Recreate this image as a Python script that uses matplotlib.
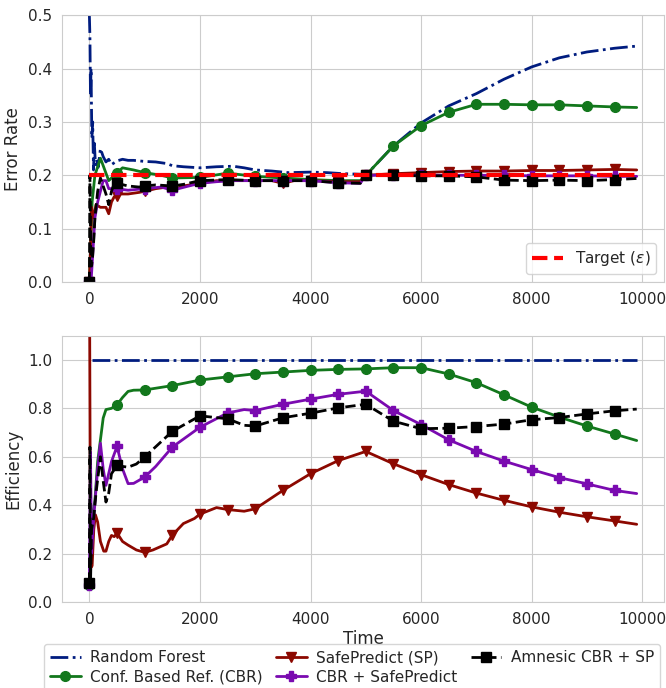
import matplotlib
matplotlib.use("Agg")
import matplotlib.pyplot as plt
import seaborn as sns

sns.set_style("whitegrid")
plt.rcParams['font.family'] = ['DejaVu Sans']

# --- error rate over time -------------------------------------------------
rf_err_t = [0, 10, 20, 30, 45, 60, 75, 90, 110, 130, 160, 200, 250, 300, 350, 400, 500, 600, 700, 800,
            1000, 1200, 1400, 1500, 1700, 2000, 2300, 2600, 2800, 3000, 3300, 3600, 4000, 4300, 4600,
            4900, 5000, 5500, 6000, 6500, 7000, 7500, 8000, 8500, 9000, 9500, 9900]
rf_err = [0.50, 0.46, 0.35, 0.40, 0.27, 0.30, 0.21, 0.26, 0.22, 0.23, 0.215, 0.25, 0.235, 0.225, 0.23,
          0.22, 0.227, 0.23, 0.228, 0.228, 0.226, 0.225, 0.222, 0.218, 0.216, 0.214, 0.216, 0.217,
          0.214, 0.21, 0.208, 0.205, 0.206, 0.205, 0.203, 0.202, 0.20, 0.255, 0.298, 0.33, 0.353,
          0.38, 0.403, 0.42, 0.431, 0.438, 0.442]

cbr_err_t = [0, 50, 100, 200, 350, 450, 500, 600, 800, 1000, 1300, 1500, 2000, 2500, 3000, 3500,
             4000, 4500, 4900, 5000, 5500, 6000, 6500, 7000, 7500, 8000, 8500, 9000, 9500, 9900]
cbr_err = [0.0, 0.15, 0.20, 0.232, 0.19, 0.20, 0.205, 0.214, 0.21, 0.205, 0.20, 0.195, 0.196, 0.204,
           0.198, 0.195, 0.192, 0.19, 0.19, 0.20, 0.255, 0.293, 0.318, 0.333, 0.333, 0.332, 0.332,
           0.33, 0.328, 0.327]

sp_err_t = [0, 20, 40, 80, 120, 200, 300, 350, 400, 450, 500, 550, 700, 900, 1000, 1200, 1400, 1500,
            1700, 2000, 2300, 2600, 3000, 3300, 3500, 3700, 4000, 4500, 4900, 5000, 5500, 6000,
            6500, 7000, 7500, 8000, 8500, 9000, 9500, 9900]
sp_err = [0.0, 0.06, 0.14, 0.12, 0.145, 0.14, 0.14, 0.128, 0.15, 0.16, 0.162, 0.165, 0.165, 0.168,
          0.17, 0.175, 0.178, 0.172, 0.18, 0.185, 0.19, 0.19, 0.19, 0.19, 0.185, 0.19, 0.19, 0.188,
          0.188, 0.20, 0.203, 0.205, 0.207, 0.208, 0.208, 0.209, 0.209, 0.21, 0.211, 0.21]

cbrsp_err_t = [0, 30, 60, 100, 150, 200, 250, 300, 350, 400, 500, 700, 1000, 1300, 1500, 1800, 2000,
               2300, 2600, 3000, 3500, 4000, 4500, 4900, 5000, 5500, 6000, 6500, 7000, 7500, 8000,
               8500, 9000, 9500, 9900]
cbrsp_err = [0.0, 0.0, 0.05, 0.12, 0.15, 0.17, 0.19, 0.19, 0.175, 0.175, 0.175, 0.172, 0.175, 0.178,
             0.172, 0.18, 0.185, 0.188, 0.19, 0.19, 0.19, 0.19, 0.186, 0.185, 0.20, 0.20, 0.20, 0.20,
             0.20, 0.20, 0.199, 0.199, 0.199, 0.198, 0.198]

amn_err_t = [0, 10, 25, 40, 60, 80, 100, 150, 200, 250, 300, 350, 400, 450, 500, 700, 900, 1000,
             1200, 1500, 1700, 2000, 2500, 3000, 3500, 4000, 4500, 4900, 5000, 5500, 6000, 6500,
             7000, 7500, 8000, 8500, 9000, 9500, 9900]
amn_err = [0.0, 0.20, 0.06, 0.03, 0.05, 0.08, 0.12, 0.17, 0.195, 0.18, 0.165, 0.145, 0.17, 0.185,
           0.185, 0.18, 0.178, 0.18, 0.182, 0.18, 0.183, 0.19, 0.192, 0.19, 0.19, 0.19, 0.186, 0.185,
           0.20, 0.20, 0.199, 0.199, 0.197, 0.191, 0.19, 0.191, 0.19, 0.192, 0.194]

target_t = [0, 9900]
target = [0.2, 0.2]

# --- efficiency over time -------------------------------------------------
rf_eff_t = [50, 9900]
rf_eff = [1.0, 1.0]

cbr_eff_t = [0, 50, 100, 150, 200, 250, 300, 400, 500, 600, 700, 800, 1000, 1500, 2000, 2500, 3000,
             3500, 4000, 4500, 5000, 5500, 6000, 6500, 7000, 7500, 8000, 8500, 9000, 9500, 9900]
cbr_eff = [0.07, 0.35, 0.42, 0.58, 0.67, 0.76, 0.795, 0.80, 0.815, 0.845, 0.87, 0.875, 0.876, 0.894,
           0.917, 0.93, 0.943, 0.95, 0.957, 0.961, 0.963, 0.968, 0.968, 0.942, 0.906, 0.856, 0.805,
           0.764, 0.727, 0.694, 0.667]

sp_eff_t = [0, 15, 25, 50, 80, 110, 150, 200, 260, 300, 350, 400, 450, 500, 600, 700, 850, 1000,
            1150, 1300, 1400, 1500, 1700, 1900, 2000, 2300, 2500, 2800, 3000, 3500, 4000, 4500,
            5000, 5500, 6000, 6500, 7000, 7500, 8000, 8500, 9000, 9500, 9900]
sp_eff = [1.5, 0.5, 0.14, 0.15, 0.30, 0.36, 0.33, 0.25, 0.21, 0.21, 0.25, 0.275, 0.27, 0.285, 0.25,
          0.235, 0.215, 0.205, 0.215, 0.23, 0.24, 0.276, 0.324, 0.345, 0.363, 0.39, 0.382, 0.375,
          0.385, 0.461, 0.53, 0.584, 0.622, 0.571, 0.526, 0.485, 0.45, 0.42, 0.393, 0.371, 0.352,
          0.335, 0.321]

cbrsp_eff_t = [0, 20, 40, 80, 150, 200, 250, 300, 400, 500, 600, 700, 800, 1000, 1200, 1500, 2000,
               2500, 2800, 3000, 3500, 4000, 4500, 5000, 5500, 6000, 6500, 7000, 7500, 8000, 8500,
               9000, 9500, 9900]
cbrsp_eff = [0.07, 0.62, 0.20, 0.35, 0.55, 0.656, 0.55, 0.482, 0.58, 0.643, 0.55, 0.489, 0.49, 0.516,
             0.56, 0.64, 0.722, 0.781, 0.795, 0.791, 0.817, 0.838, 0.858, 0.871, 0.791, 0.733, 0.670,
             0.622, 0.582, 0.547, 0.514, 0.488, 0.461, 0.448]

amn_eff_t = [0, 10, 20, 40, 80, 120, 200, 250, 300, 350, 400, 500, 600, 700, 850, 1000, 1500, 2000,
             2500, 2800, 3000, 3500, 4000, 4500, 5000, 5500, 6000, 6500, 7000, 7500, 8000, 8500,
             9000, 9500, 9900]
amn_eff = [0.08, 0.64, 0.07, 0.30, 0.35, 0.45, 0.60, 0.50, 0.413, 0.45, 0.53, 0.564, 0.56, 0.557,
           0.57, 0.599, 0.705, 0.769, 0.757, 0.73, 0.727, 0.761, 0.78, 0.802, 0.817, 0.747, 0.716,
           0.718, 0.725, 0.735, 0.753, 0.762, 0.777, 0.790, 0.797]

labels = ["Random Forest", "Conf. Based Ref. (CBR)", "SafePredict (SP)",
          "CBR + SafePredict", "Amnesic CBR + SP"]
colors = ["#001c7f", "#12771c", "#8c0800", "#7a0ab0", "black"]
styles = ["-.", "-", "-", "-", "--"]
markers = [None, "o", "v", "P", "s"]


def every_500(t):
    return [i for i, v in enumerate(t) if v % 500 == 0]


fig = plt.figure(figsize=(6.66, 6.88), dpi=100)
ax1 = fig.add_axes([0.0931, 0.590, 0.904, 0.388])
ax2 = fig.add_axes([0.0931, 0.125, 0.904, 0.387])

top = [(rf_err_t, rf_err), (cbr_err_t, cbr_err), (sp_err_t, sp_err),
       (cbrsp_err_t, cbrsp_err), (amn_err_t, amn_err)]
bottom = [(rf_eff_t, rf_eff), (cbr_eff_t, cbr_eff), (sp_eff_t, sp_eff),
          (cbrsp_eff_t, cbrsp_eff), (amn_eff_t, amn_eff)]

handles = []
for (t, v), lab, c, ls, m in zip(top, labels, colors, styles, markers):
    ax1.plot(t, v, color=c, ls=ls, lw=2, marker=m, ms=7,
             markevery=every_500(t) if m else None)
ax1.plot(target_t, target, color="red", ls="--", lw=3, label=r"Target ($\epsilon$)")

for (t, v), lab, c, ls, m in zip(bottom, labels, colors, styles, markers):
    h, = ax2.plot(t, v, color=c, ls=ls, lw=2, marker=m, ms=7,
                  markevery=every_500(t) if m else None, label=lab)
    handles.append(h)

ax1.set_ylim(0, 0.5)
ax2.set_ylim(0, 1.1)
for ax in (ax1, ax2):
    ax.set_xlim(-495, 10395)
    ax.set_xticks([0, 2000, 4000, 6000, 8000, 10000])
    ax.tick_params(labelsize=11)

ax1.set_ylabel("Error Rate", fontsize=12)
ax2.set_ylabel("Efficiency", fontsize=12)
ax2.set_xlabel("Time", fontsize=12, labelpad=2)

ax1.legend(loc="lower right", fontsize=11)
fig.legend(handles=handles, labels=labels, loc="upper left", bbox_to_anchor=(0.066, 0.064),
           ncol=3, fontsize=11, numpoints=1, columnspacing=0.9, handlelength=2.0,
           handletextpad=0.6, borderaxespad=0.0, labelspacing=0.3)

fig.savefig("out.png", dpi=100)
